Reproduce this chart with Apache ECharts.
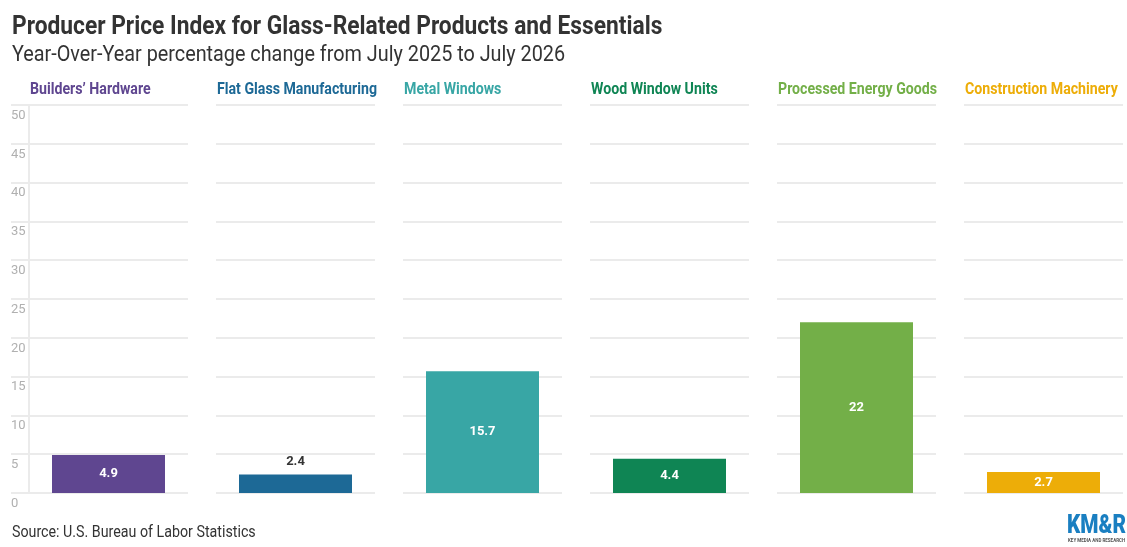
<!DOCTYPE html>
<html>
<head>
    <meta charset="utf-8"/>
    <title>Producer Price Index</title>
    <script src="https://cdn.jsdelivr.net/npm/echarts@6/dist/echarts.min.js"></script>
    <style>
        html, body { margin: 0; padding: 0; background: #fff; }
    </style>
</head>
<body>
<div id="main" style="width: 1127px; height: 547px"></div>
<script type="text/javascript">
    // data
    var categories = ['Builders\u2019 Hardware', 'Flat Glass Manufacturing', 'Metal Windows',
        'Wood Window Units', 'Processed Energy Goods', 'Construction Machinery'];
    var values = [4.9, 2.4, 15.7, 4.4, 22, 2.7];
    var colors = ['#5F4690', '#1D6996', '#38A6A5', '#0F8554', '#73AF48', '#EDAD08'];
    var yTicks = [0, 5, 10, 15, 20, 25, 30, 35, 40, 45, 50];

    var myChart = echarts.init(document.getElementById('main'));

    // layout of the small multiples
    var panelLeft = 29, panelStep = 187, panelWidth = 159;
    var plotTop = 105, plotBottom = 54;

    var grids = [], xAxes = [], yAxes = [], series = [], texts = [];

    categories.forEach(function (name, i) {
        var left = panelLeft + i * panelStep;
        grids.push({left: left, width: panelWidth, top: plotTop, bottom: plotBottom});
        xAxes.push({
            type: 'category', gridIndex: i, data: [name], show: false
        });
        yAxes.push({
            type: 'value', gridIndex: i,
            min: yTicks[0], max: yTicks[yTicks.length - 1], interval: 5,
            axisLine: {show: i === 0, lineStyle: {color: '#ebebeb', width: 2}},
            axisTick: {show: i === 0, length: 18, lineStyle: {color: '#ebebeb', width: 2}},
            axisLabel: {
                show: i === 0, align: 'left', margin: 18, verticalAlign: 'top',
                padding: [4, 0, 0, 0],
                color: '#b0b0b0', fontFamily: 'Roboto', fontSize: 13
            },
            splitLine: {lineStyle: {color: '#ebebeb', width: 2}}
        });
        var small = values[i] < 2.5;
        series.push({
            type: 'bar', xAxisIndex: i, yAxisIndex: i,
            barWidth: 113,
            itemStyle: {color: colors[i]},
            label: {
                show: true,
                position: small ? 'top' : 'inside',
                distance: 6,
                color: small ? '#333' : '#fff',
                fontFamily: 'Roboto', fontWeight: 'bold', fontSize: 13
            },
            data: [values[i]]
        });
        texts.push({
            type: 'text', x: left + 1, y: 82, scaleX: 0.885,
            style: {
                text: name, fill: colors[i],
                font: 'bold 16px Roboto'
            }
        });
    });

    texts.push({
        type: 'text', x: 12, y: 15, scaleX: 0.91,
        style: {
            text: 'Producer Price Index for Glass-Related Products and Essentials',
            fill: '#333', font: 'bold 25px Roboto'
        }
    });
    texts.push({
        type: 'text', x: 12, y: 44, scaleX: 0.9,
        style: {
            text: 'Year-Over-Year percentage change from July 2025 to July 2026',
            fill: '#333', font: '22px Roboto'
        }
    });
    texts.push({
        type: 'text', x: 12, y: 525, scaleX: 0.89,
        style: {
            text: 'Source: U.S. Bureau of Labor Statistics',
            fill: '#333', font: '16px Roboto'
        }
    });
    // logo
    texts.push({
        type: 'text', x: 1067, y: 513, scaleX: 0.8,
        style: {text: 'KM&R', fill: '#1a7fc1', font: '900 26px Roboto'}
    });
    texts.push({
        type: 'text', x: 1068, y: 538, scaleX: 0.9,
        style: {text: 'KEY MEDIA AND RESEARCH', fill: '#555', font: 'bold 5px Roboto'}
    });

    var option = {
        animation: false,
        grid: grids,
        xAxis: xAxes,
        yAxis: yAxes,
        series: series,
        graphic: texts
    };

    myChart.setOption(option);
</script>
</body>
</html>
